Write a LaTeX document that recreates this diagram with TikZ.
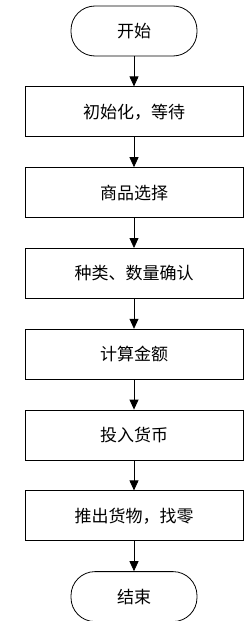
\documentclass[tikz,border=0pt]{standalone}
\usepackage{fontspec}
\newfontfamily\cjk{Noto Sans CJK SC}
\usetikzlibrary{arrows.meta, positioning}

\begin{document}
\begin{tikzpicture}[
    node distance=30pt,
    box/.style={rectangle, draw, line width=0.8pt, minimum width=218pt, minimum height=50pt, align=center, fill=white, font=\cjk\fontsize{17}{19}\selectfont},
    term/.style={rectangle, rounded corners=24pt, draw, line width=0.8pt, minimum width=126pt, minimum height=50pt, align=center, fill=white, font=\cjk\fontsize{17}{19}\selectfont},
    arrow/.style={-{Triangle[length=10pt, width=9pt]}, line width=0.8pt}
]

\useasboundingbox (0pt,0pt) rectangle (251pt,-621pt);

% Terminals and steps
\node[term] (start) at (134pt,-31pt) {开始};
\node[box, below=of start] (init) {初始化，等待};
\node[box, below=of init] (select) {商品选择};
\node[box, below=of select] (confirm) {种类、数量确认};
\node[box, below=of confirm] (amount) {计算金额};
\node[box, below=of amount] (coin) {投入货币};
\node[box, below=of coin] (deliver) {推出货物，找零};
\node[term, below=of deliver] (finish) {结束};

% Arrows
\draw[arrow] (start) -- (init);
\draw[arrow] (init) -- (select);
\draw[arrow] (select) -- (confirm);
\draw[arrow] (confirm) -- (amount);
\draw[arrow] (amount) -- (coin);
\draw[arrow] (coin) -- (deliver);
\draw[arrow] (deliver) -- (finish);

\end{tikzpicture}
\end{document}
